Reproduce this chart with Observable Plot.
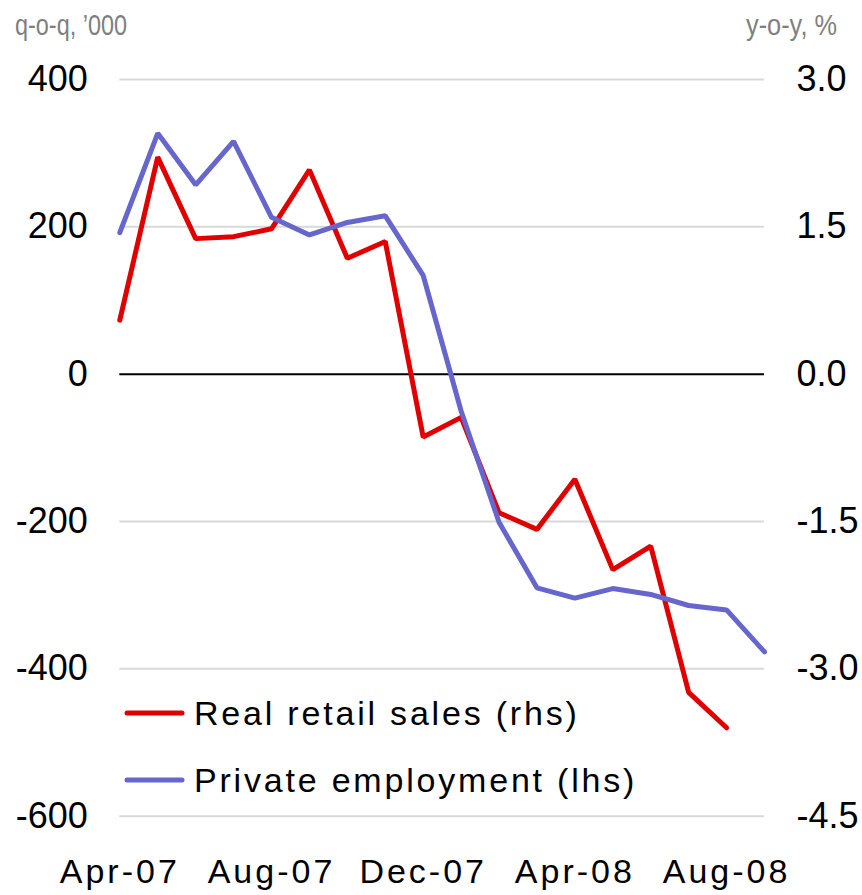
<!DOCTYPE html>
<html>
<head>
<meta charset="utf-8">
<script src="https://cdn.jsdelivr.net/npm/d3@7"></script>
<script src="https://cdn.jsdelivr.net/npm/@observablehq/plot@0.6"></script>
<style>
  html, body { margin: 0; padding: 0; background: #fff; }
  #chart { width: 862px; height: 895px; position: relative; }
</style>
</head>
<body>
<div id="chart"></div>
<script>
// ---- Data ----
const months = ["Apr-07","May-07","Jun-07","Jul-07","Aug-07","Sep-07","Oct-07","Nov-07","Dec-07",
                "Jan-08","Feb-08","Mar-08","Apr-08","May-08","Jun-08","Jul-08","Aug-08","Sep-08"];
// Private employment, q-o-q change, '000 (lhs)
const employment = [192, 327, 257, 316, 213, 189, 206, 215, 134,
                    -50, -201, -290, -304, -291, -299, -314, -320, -377];
// Real retail sales, y-o-y % (rhs)
const retailSales = [0.55, 2.21, 1.38, 1.40, 1.48, 2.08, 1.18, 1.35, -0.64,
                     -0.44, -1.41, -1.58, -1.07, -1.99, -1.75, -3.24, -3.60, null];
const xTickLabels = ["Apr-07","Aug-07","Dec-07","Apr-08","Aug-08"];
const lhsTicks = [400, 200, 0, -200, -400, -600];
const rhsTicks = [3.0, 1.5, 0.0, -1.5, -3.0, -4.5];
const lhsDomain = [-600, 400];
const rhsDomain = [-4.5, 3.0];
const seriesNames = ["Real retail sales (rhs)", "Private employment (lhs)"];
const seriesColors = ["#e00000", "#6666cc"];
const unitLabels = ["q-o-q, \u2019000", "y-o-y, %"];

// map rhs values onto the lhs scale (shared pixel range)
const k = (lhsDomain[1] - lhsDomain[0]) / (rhsDomain[1] - rhsDomain[0]);
const toLhs = v => lhsDomain[0] + (v - rhsDomain[0]) * k;
const toRhs = d => rhsDomain[0] + (d - lhsDomain[0]) / k;

const empData = months.map((m, i) => ({month: m, value: employment[i]}));
const salesData = months.map((m, i) => ({month: m, value: retailSales[i]})).filter(d => d.value != null);

const font = "'Liberation Sans', Arial, Helvetica, sans-serif";

const chart = Plot.plot({
  width: 862,
  height: 895,
  marginTop: 79,
  marginBottom: 79.3,
  marginLeft: 119.3,
  marginRight: 98,
  style: {fontFamily: font, fontSize: "36px", color: "#000", background: "#fff", overflow: "visible"},
  x: {type: "point", domain: months, padding: 0, round: false, label: null},
  y: {domain: lhsDomain, label: null},
  marks: [
    Plot.ruleY(lhsTicks.filter(d => d !== 0), {stroke: "#d9d9d9", strokeWidth: 2}),
    Plot.ruleY([0], {stroke: "#000", strokeWidth: 2}),
    Plot.axisY(lhsTicks, {anchor: "left", tickSize: 0, tickPadding: 32, fontSize: 36,
                          tickFormat: d => String(d), label: null}),
    Plot.axisY(rhsTicks.map(toLhs), {anchor: "right", tickSize: 0, tickPadding: 32, fontSize: 36,
                          tickFormat: d => toRhs(d).toFixed(1), label: null}),
    Plot.axisX(xTickLabels, {anchor: "bottom", tickSize: 0, tickPadding: 43, fontSize: 34, label: null}),
    Plot.line(salesData, {x: "month", y: d => toLhs(d.value), stroke: seriesColors[0], strokeWidth: 5,
                          strokeLinejoin: "miter", strokeLinecap: "round"}),
    Plot.line(empData, {x: "month", y: "value", stroke: seriesColors[1], strokeWidth: 5,
                        strokeLinejoin: "miter", strokeLinecap: "round"})
  ]
});

document.getElementById("chart").appendChild(chart);

const svg = d3.select(chart);
svg.selectAll('g[aria-label="x-axis tick label"] text').style("letter-spacing", "3px");

// unit labels above the axes
svg.append("text")
  .attr("x", 15).attr("y", 35).attr("text-anchor", "start")
  .attr("textLength", 112).attr("lengthAdjust", "spacingAndGlyphs")
  .style("font-family", "'Liberation Sans Narrow', " + font)
  .style("font-size", "30px").attr("fill", "#7f7f7f")
  .text(unitLabels[0]);
svg.append("text")
  .attr("x", 746).attr("y", 35).attr("text-anchor", "start")
  .attr("textLength", 91).attr("lengthAdjust", "spacingAndGlyphs")
  .style("font-family", "'Liberation Sans Narrow', " + font)
  .style("font-size", "30px").attr("fill", "#7f7f7f")
  .text(unitLabels[1]);

// legend
const legendY = [713, 780];
seriesNames.forEach((name, i) => {
  const g = svg.append("g");
  g.append("line")
    .attr("x1", 127).attr("x2", 182)
    .attr("y1", legendY[i]).attr("y2", legendY[i])
    .attr("stroke", seriesColors[i]).attr("stroke-width", 5).attr("stroke-linecap", "round");
  g.append("text")
    .attr("x", 194).attr("y", legendY[i]).attr("dy", "0.36em").attr("text-anchor", "start")
    .style("font-family", font).style("font-size", "34px").style("letter-spacing", "2.8px")
    .attr("fill", "#000")
    .text(name);
});
</script>
</body>
</html>
